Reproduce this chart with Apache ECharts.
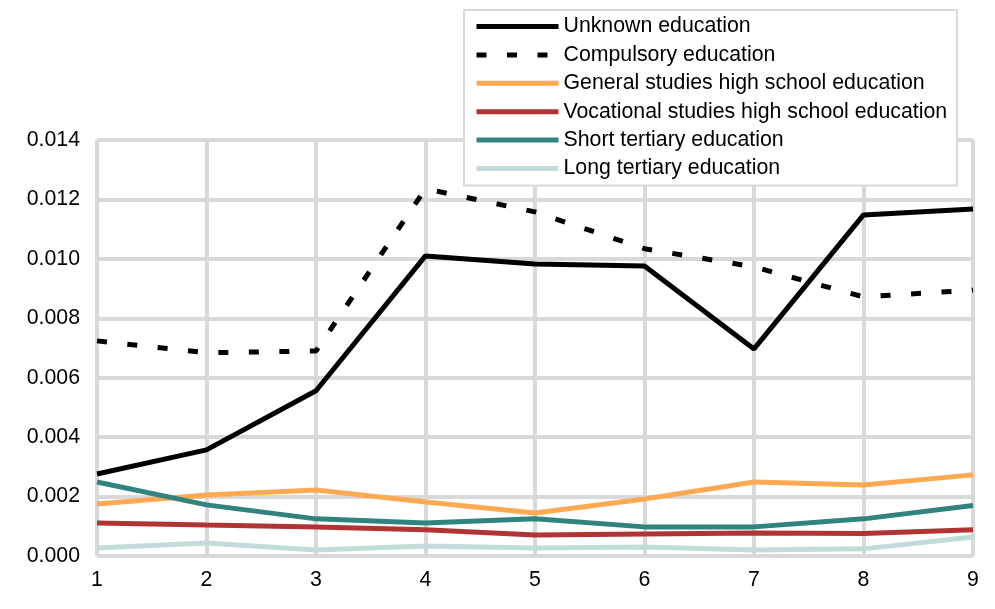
<!DOCTYPE html>
<html>
<head>
<meta charset="utf-8">
<title></title>
<style type="text/css">
  html, body { margin: 0; padding: 0; background: #fff; }
  #main { width: 995px; height: 609px; }
</style>
<script src="https://cdn.jsdelivr.net/npm/echarts@6/dist/echarts.min.js"></script>
</head>
<body>
<div id="main"></div>
<script type="text/javascript">
// x categories
var periods = ['1', '2', '3', '4', '5', '6', '7', '8', '9'];
// series values
var unknownEdu    = [0.00276, 0.00357, 0.00556, 0.01010, 0.00983, 0.00976, 0.00697, 0.01148, 0.01168];
var compulsory    = [0.00724, 0.00684, 0.00690, 0.01236, 0.01158, 0.01034, 0.00973, 0.00872, 0.00895];
var generalHigh   = [0.00175, 0.00205, 0.00222, 0.00182, 0.00145, 0.00192, 0.00249, 0.00239, 0.00273];
var vocationalHigh = [0.00111, 0.00104, 0.00098, 0.00088, 0.00071, 0.00074, 0.00077, 0.00076, 0.00088];
var shortTertiary = [0.00249, 0.00172, 0.00125, 0.00111, 0.00125, 0.00098, 0.00098, 0.00125, 0.00170];
var longTertiary  = [0.00027, 0.00044, 0.00020, 0.00034, 0.00027, 0.00030, 0.00020, 0.00024, 0.00064];
var seriesNames = ['Unknown education', 'Compulsory education', 'General studies high school education',
  'Vocational studies high school education', 'Short tertiary education', 'Long tertiary education'];

var font = 'Liberation Sans, Arial, sans-serif';
var gridLine = { show: true, lineStyle: { color: '#d9d9d9', width: 4 } };

function mkLine(name, data, color, dashed) {
  return {
    name: name,
    type: 'line',
    data: data,
    symbol: 'none',
    smooth: false,
    lineStyle: { color: color, width: 5, type: dashed ? [10, 20.5] : 'solid', cap: 'butt' },
    itemStyle: { color: color }
  };
}

var myChart = echarts.init(document.getElementById('main'));
var option = {
  animation: false,
  grid: { left: 97, right: 22, top: 140, bottom: 53 },
  legend: {
    orient: 'vertical',
    left: 464,
    top: 10,
    padding: [5.5, 10, 6, 10],
    backgroundColor: '#fff',
    borderColor: '#d9d9d9',
    borderWidth: 2,
    itemWidth: 82,
    itemHeight: 14,
    itemGap: 6.4,
    data: seriesNames,
    // hide the dot that ECharts puts on line legend icons
    itemStyle: { opacity: 0 },
    lineStyle: { width: 5 },
    textStyle: { fontFamily: font, fontSize: 21.3, color: '#000', lineHeight: 22 }
  },
  xAxis: {
    type: 'category',
    data: periods,
    boundaryGap: false,
    axisLine: { show: false },
    axisTick: { show: false },
    splitLine: gridLine,
    axisLabel: { fontFamily: font, fontSize: 21.3, color: '#000', margin: 14 }
  },
  yAxis: {
    type: 'value',
    min: 0,
    max: 0.014,
    interval: 0.002,
    axisLine: { show: false },
    axisTick: { show: false },
    splitLine: gridLine,
    axisLabel: {
      fontFamily: font, fontSize: 21.3, color: '#000', margin: 17,
      formatter: function (v) { return v.toFixed(3); }
    }
  },
  series: [
    mkLine(seriesNames[0], unknownEdu, '#000000', false),
    mkLine(seriesNames[1], compulsory, '#000000', true),
    mkLine(seriesNames[2], generalHigh, '#ffa953', false),
    mkLine(seriesNames[3], vocationalHigh, '#b03434', false),
    mkLine(seriesNames[4], shortTertiary, '#31837f', false),
    mkLine(seriesNames[5], longTertiary, '#c1dcd9', false)
  ]
};
myChart.setOption(option);
</script>
</body>
</html>
